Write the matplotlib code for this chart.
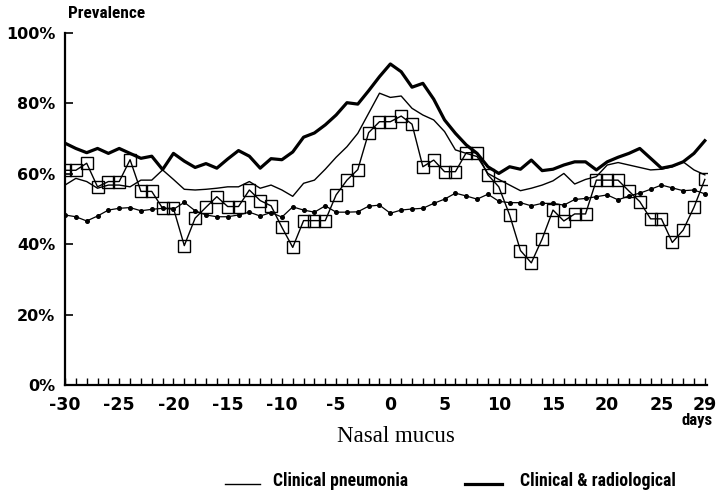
import matplotlib
matplotlib.use("Agg")
import matplotlib.pyplot as plt
from matplotlib.lines import Line2D
from matplotlib.ticker import FixedLocator
from matplotlib import font_manager

plt.rcParams['axes.unicode_minus'] = False

days = list(range(-30, 30))

clinical_pneumonia = [
    56.8, 58.7, 57.8, 55.9, 56.8, 56.8, 56.3, 58.2, 58.2, 61.1,
    58.4, 55.6, 55.4, 55.6, 55.9, 56.3, 56.3, 57.8, 55.9, 56.8,
    55.4, 53.6, 57.3, 58.2, 61.3, 64.7, 67.7, 71.5, 77.2, 82.9,
    81.7, 82.1, 78.6, 76.7, 75.3, 72.0, 66.8, 65.8, 64.9, 60.1,
    58.4, 56.8, 55.2, 55.9, 56.8, 58.0, 60.1, 57.1, 58.4, 59.2,
    62.5, 63.2, 62.5, 61.8, 61.1, 61.3, 62.0, 63.4, 61.1, 59.7,
]

clinical_radiological = [
    68.7, 67.2, 66.0, 67.2, 65.8, 67.2, 65.8, 64.4, 65.0, 61.2,
    65.8, 63.6, 61.8, 62.9, 61.6, 64.2, 66.6, 65.0, 61.6, 64.3,
    64.0, 66.2, 70.4, 71.6, 73.9, 76.7, 80.2, 79.8, 83.6, 87.6,
    91.2, 89.0, 84.6, 85.7, 81.2, 75.3, 71.5, 68.2, 65.8, 62.0,
    60.1, 62.0, 61.3, 63.9, 60.9, 61.3, 62.5, 63.4, 63.4, 61.1,
    63.4, 64.7, 65.8, 67.2, 64.4, 61.6, 62.2, 63.4, 65.8, 69.4,
]

square_series = [
    61.0, 61.0, 63.0, 56.3, 57.8, 57.8, 64.0, 55.0, 55.0, 50.2,
    50.2, 39.6, 47.4, 50.5, 53.5, 50.7, 50.7, 55.4, 52.4, 50.9,
    44.8, 39.1, 46.7, 46.7, 46.7, 54.0, 58.2, 61.2, 71.7, 74.8,
    74.8, 76.4, 74.1, 62.0, 63.9, 60.6, 60.6, 66.0, 66.0, 59.7,
    56.3, 48.3, 38.2, 34.7, 41.5, 49.7, 46.6, 48.6, 48.6, 58.2,
    58.2, 58.2, 55.1, 52.1, 47.2, 47.2, 40.5, 44.0, 50.5, 58.4,
]

dot_series = [
    48.3, 47.8, 46.6, 48.0, 49.7, 50.2, 50.4, 49.5, 49.9, 50.2,
    49.9, 51.9, 49.5, 48.3, 47.8, 47.8, 48.3, 49.1, 48.0, 49.0,
    47.7, 50.6, 49.7, 49.1, 50.9, 49.1, 49.1, 49.2, 50.8, 51.1,
    48.8, 49.7, 50.0, 50.2, 51.6, 52.8, 54.5, 53.7, 52.8, 54.2,
    52.2, 51.8, 51.8, 50.9, 51.6, 51.6, 51.1, 52.7, 53.0, 53.5,
    54.0, 52.6, 53.7, 54.5, 55.6, 56.8, 56.0, 55.2, 55.4, 54.3,
]

x_tick_values = [-30, -25, -20, -15, -10, -5, 0, 5, 10, 15, 20, 25, 29]
y_tick_values = [0, 20, 40, 60, 80, 100]
y_tick_labels = ["0%", "20%", "40%", "60%", "80%", "100%"]

W, H = 719, 495

# pick a narrow bold sans if one is available
installed = {f.name for f in font_manager.fontManager.ttflist}
narrow = 'Liberation Sans'
for cand in ('Roboto Condensed', 'Liberation Sans Narrow', 'Arial Narrow',
             'Open Sans Condensed', 'Noto Sans Condensed'):
    if cand in installed:
        narrow = cand
        break

fig = plt.figure(figsize=(W / 100, H / 100), dpi=100)
ax = fig.add_axes([65 / W, 1 - 385 / H, (707 - 65) / W, (385 - 33) / H])

ax.plot(days, dot_series, color='black', lw=0.9, marker='o', ms=2.6,
        mfc='black', mec='black', zorder=2)
ax.plot(days, square_series, color='black', lw=1.0, marker='s', ms=8,
        mfc='none', mec='black', mew=1.0, zorder=3)
ax.plot(days, clinical_pneumonia, color='black', lw=1.0, zorder=4)
ax.plot(days, clinical_radiological, color='black', lw=2.3, zorder=5)

ax.set_xlim(-30, 29.2)
ax.set_ylim(0, 100)

for side in ('top', 'right'):
    ax.spines[side].set_visible(False)
for side in ('left', 'bottom'):
    ax.spines[side].set_linewidth(1.6)
    ax.spines[side].set_color('black')

ax.xaxis.set_major_locator(FixedLocator(x_tick_values))
ax.xaxis.set_minor_locator(FixedLocator([d for d in days if d not in x_tick_values]))
ax.set_xticklabels([str(v) for v in x_tick_values])
ax.set_yticks(y_tick_values)
ax.set_yticklabels(y_tick_labels)

ax.tick_params(axis='x', which='both', direction='in', length=5, width=1.0,
               pad=8, labelsize=12.5)
ax.tick_params(axis='y', which='major', direction='in', length=6, width=1.2,
               pad=7, labelsize=11.5)
for lab in ax.get_xticklabels() + ax.get_yticklabels():
    lab.set_fontweight('bold')
    lab.set_family('DejaVu Sans')

renderer = fig.canvas.get_renderer()


def fitted_text(x_px, y_px, s, width_px, size, ha='left', **kw):
    """Place bold narrow text, shrinking it until it spans width_px."""
    t = fig.text(x_px / W, 1 - y_px / H, s, family=narrow, fontweight='bold',
                 fontsize=size, ha=ha, va='center', **kw)
    w = t.get_window_extent(renderer).width
    if w > width_px:
        t.set_fontsize(size * width_px / w)
    return t


fitted_text(68, 14, "Prevalence", 77, 12.5)
fitted_text(713, 421, "days", 31, 12.5, ha='right')
fig.text(396 / W, 1 - 437 / H, "Nasal mucus", family='Liberation Serif',
         fontsize=16.5, ha='center', va='center')

# legend drawn in figure coordinates
fig.add_artist(Line2D([225 / W, 260 / W], [1 - 484 / H] * 2,
                      color='black', lw=1.0, transform=fig.transFigure))
fitted_text(273, 481, "Clinical pneumonia", 134, 13)
fig.add_artist(Line2D([465 / W, 502 / W], [1 - 484 / H] * 2,
                      color='black', lw=2.3, transform=fig.transFigure))
fitted_text(520, 481, "Clinical & radiological", 155, 13)

fig.savefig("out.png", dpi=100)
